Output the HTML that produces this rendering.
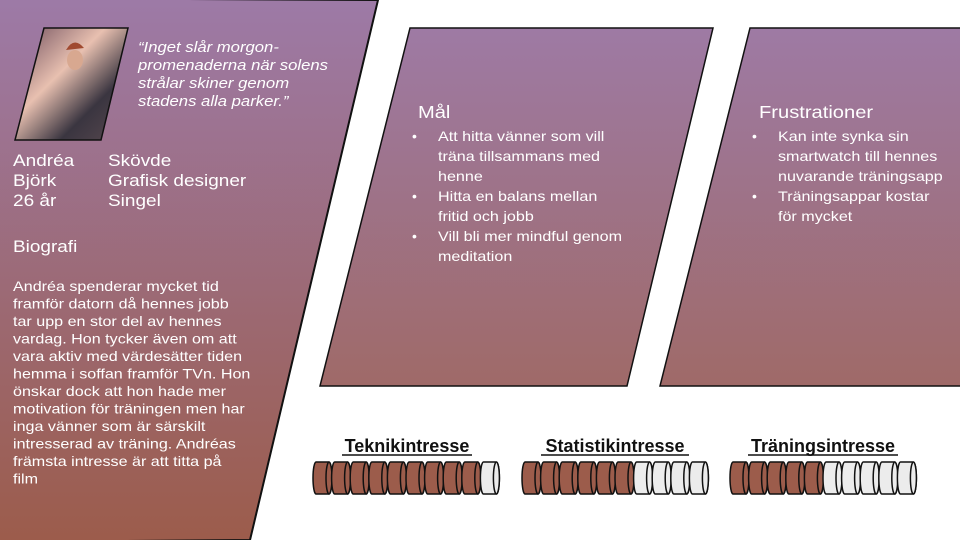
<!DOCTYPE html>
<html><head><meta charset="utf-8"><style>
body{margin:0;width:960px;height:540px;overflow:hidden;background:#fff}
svg text{font-family:"Liberation Sans",sans-serif;fill:#fff}
</style></head><body>
<svg width="960" height="540" viewBox="0 0 960 540">
<defs>
<linearGradient id="g1" x1="0" y1="0" x2="0" y2="1"><stop offset="0" stop-color="#9d7aa7"/><stop offset="1" stop-color="#9c5c4b"/></linearGradient>
<linearGradient id="g2" x1="0" y1="0" x2="0" y2="1"><stop offset="0" stop-color="#9e7aa4"/><stop offset="1" stop-color="#9f6a68"/></linearGradient>
<linearGradient id="ph" x1="0" y1="0" x2="1" y2="1"><stop offset="0" stop-color="#6b4a5a"/><stop offset=".4" stop-color="#e8c0b0"/><stop offset=".7" stop-color="#3a3540"/><stop offset="1" stop-color="#5a4a50"/></linearGradient>
</defs>
<polygon points="-2,-2 378,0 250,540 -2,542" fill="url(#g1)" stroke="#111" stroke-width="2"/>
<polygon points="410,28 713,28 627,386 320,386" fill="url(#g2)" stroke="#111" stroke-width="1.5"/>
<polygon points="750,28 962,28 962,386 660,386" fill="url(#g2)" stroke="#111" stroke-width="1.5"/>
<polygon points="44,28 128,28 101,140 15,140" fill="url(#ph)" stroke="#111" stroke-width="1.5"/>
<ellipse cx="75" cy="60" rx="8" ry="10" fill="#d8a890"/>
<path d="M66,50 q8,-14 18,-2" fill="#a04a30"/>
<g font-style="italic" font-size="14.5" class="w">
<text x="138" y="52">“Inget slår morgon-</text>
<text x="138" y="70">promenaderna när solens</text>
<text x="138" y="88">strålar skiner genom</text>
<text x="138" y="106">stadens alla parker.”</text>
</g>
<g font-size="16.5" class="w">
<text x="13" y="166">Andréa</text><text x="13" y="186">Björk</text><text x="13" y="206">26 år</text>
<text x="108" y="166">Skövde</text><text x="108" y="186">Grafisk designer</text><text x="108" y="206">Singel</text>
<text x="13" y="252">Biografi</text>
</g>
<g font-size="14" class="w">
<text x="13" y="291">Andréa spenderar mycket tid</text>
<text x="13" y="308.5">framför datorn då hennes jobb</text>
<text x="13" y="326">tar upp en stor del av hennes</text>
<text x="13" y="343.5">vardag. Hon tycker även om att</text>
<text x="13" y="361">vara aktiv med värdesätter tiden</text>
<text x="13" y="378.5">hemma i soffan framför TVn. Hon</text>
<text x="13" y="396">önskar dock att hon hade mer</text>
<text x="13" y="413.5">motivation för träningen men har</text>
<text x="13" y="431">inga vänner som är särskilt</text>
<text x="13" y="448.5">intresserad av träning. Andréas</text>
<text x="13" y="466">främsta intresse är att titta på</text>
<text x="13" y="483.5">film</text>
</g>
<g class="w"><text x="418" y="118" font-size="17.5">Mål</text></g>
<g font-size="14">
<text x="412" y="141">•</text><text x="412" y="201">•</text><text x="412" y="241">•</text>
<text x="752" y="141">•</text><text x="752" y="201">•</text>
</g>
<g font-size="14" class="w">
<text x="438" y="141">Att hitta vänner som vill</text>
<text x="438" y="161">träna tillsammans med</text><text x="438" y="181">henne</text>
<text x="438" y="201">Hitta en balans mellan</text>
<text x="438" y="221">fritid och jobb</text>
<text x="438" y="241">Vill bli mer mindful genom</text>
<text x="438" y="261">meditation</text>
</g>
<g class="w"><text x="759" y="118" font-size="17.5">Frustrationer</text></g>
<g font-size="14" class="w">
<text x="778" y="141">Kan inte synka sin</text>
<text x="778" y="161">smartwatch till hennes</text><text x="778" y="181">nuvarande träningsapp</text>
<text x="778" y="201">Träningsappar kostar</text>
<text x="778" y="221">för mycket</text>
</g>
<g font-size="18" font-weight="bold">
<text x="407" y="452" text-anchor="middle" style="fill:#111">Teknikintresse</text>
<text x="615" y="452" text-anchor="middle" style="fill:#111">Statistikintresse</text>
<text x="823" y="452" text-anchor="middle" style="fill:#111">Träningsintresse</text>
</g>
<line x1="342" y1="455" x2="472" y2="455" stroke="#111" stroke-width="1.5"/>
<line x1="541" y1="455" x2="689" y2="455" stroke="#111" stroke-width="1.5"/>
<line x1="748" y1="455" x2="898" y2="455" stroke="#111" stroke-width="1.5"/>
<g id="bars" stroke="#111" stroke-width="1.5"></g>
</svg>
<script>
document.querySelectorAll('.w text').forEach(t=>{
 const l=t.getComputedTextLength();
 t.setAttribute('textLength',(l*1.15).toFixed(1));
 t.setAttribute('lengthAdjust','spacingAndGlyphs');
});
const g=document.getElementById('bars');
[[313,9],[522,6],[730,5]].forEach(([x0,n])=>{
 for(let i=0;i<10;i++){
  const x=x0+i*18.6,c=i<n?'#9c5c4b':'#ececec';
  g.innerHTML+=`<path d="M${x+3},462 h13 a3,16 0 0 1 0,32 h-13 a3,16 0 0 1 0,-32z" fill="${c}"/><ellipse cx="${x+16}" cy="478" rx="3" ry="16" fill="${c}"/>`;
 }
});
</script>
</body></html>
